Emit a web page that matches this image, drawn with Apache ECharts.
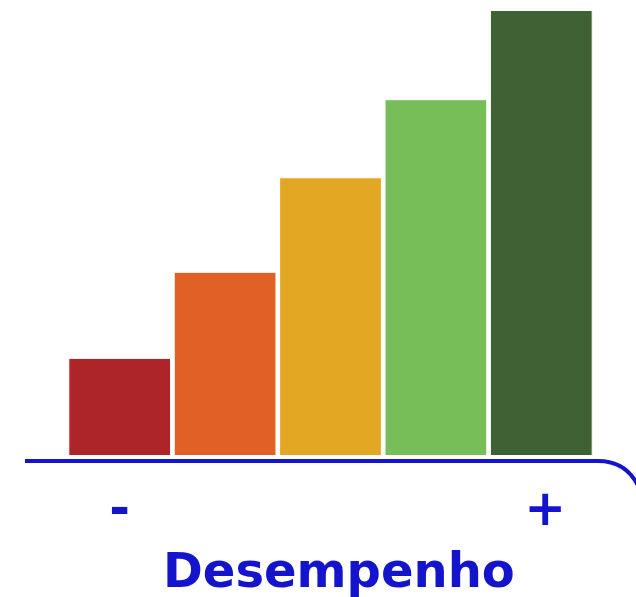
<!DOCTYPE html>
<html><head><meta charset="utf-8">
<script src="https://cdn.jsdelivr.net/npm/echarts@6/dist/echarts.min.js"></script>
<style>html,body{margin:0;padding:0;background:#fff}#c{width:636px;height:597px}</style>
</head><body><div id="c"></div>
<script>
const categories = ['-', '', '', '', '+'];
const values = [22, 41.3, 62.5, 80, 100];
const colors = ['#AD2429', '#E06026', '#E3A823', '#77BD58', '#3E6233'];
const axisTitle = 'Desempenho';

const chart = echarts.init(document.getElementById('c'));
chart.setOption({
  animation: false,
  grid: {left: 67, right: 42, top: 10, bottom: 141},
  xAxis: {
    type: 'category', data: categories,
    axisLine: {show: false}, axisTick: {show: false},
    axisLabel: {
      color: '#1414CC', fontFamily: 'DejaVu Sans', fontWeight: 'bold', fontSize: 50, margin: 31, interval: 0,
      formatter: v => v === '+' ? '{p|' + v + '}' : v,
      rich: {p: {color: '#1414CC', fontFamily: 'DejaVu Sans', fontWeight: 'bold', fontSize: 50, padding: [0, 0, 0, 8]}}
    }
  },
  yAxis: {type: 'value', min: 0, max: 100, show: false, splitLine: {show: false}},
  series: [{
    type: 'bar', barCategoryGap: '2.5%',
    data: values.map((v, i) => ({value: v, itemStyle: {color: colors[i]}})),
    itemStyle: {borderColor: '#ffffff', borderWidth: 1}
  }],
  graphic: [
    {type: 'line', shape: {x1: 25, y1: 461, x2: 599, y2: 461},
     style: {stroke: '#1414CC', lineWidth: 4}},
    {type: 'bezierCurve', shape: {x1: 598, y1: 461, x2: 640, y2: 490, cpx1: 628, cpy1: 461},
     style: {stroke: '#1414CC', lineWidth: 4, fill: 'none'}},
    {type: 'text', left: 163, top: 551, style: {text: axisTitle, fill: '#1414CC', font: 'bold 48px "DejaVu Sans"'}}
  ]
});
</script></body></html>
